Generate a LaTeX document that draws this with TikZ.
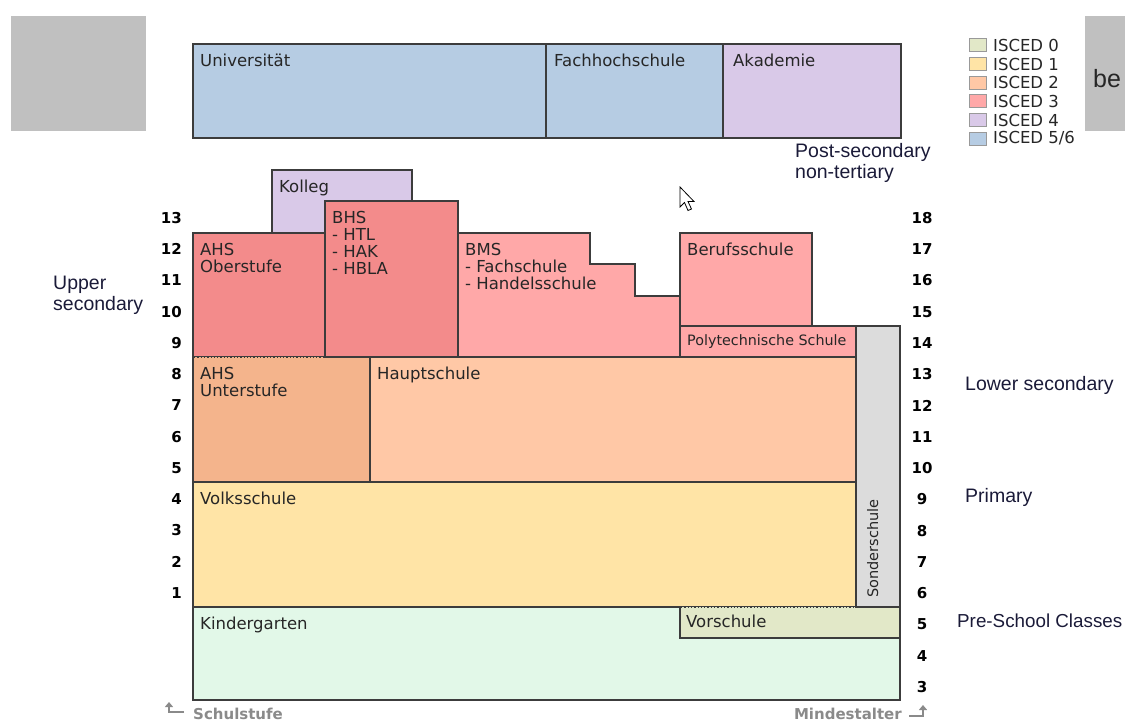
\documentclass[tikz,border=0pt]{standalone}
\usepackage{fontspec}
\setmainfont{DejaVu Sans}
\newfontfamily\arialf{Liberation Sans}
\usetikzlibrary{arrows.meta}
\definecolor{boxline}{HTML}{3C3C3C}
\definecolor{txt}{HTML}{262626}
\definecolor{labc}{HTML}{1A1A38}
\definecolor{cblue}{HTML}{B6CCE3}
\definecolor{clila}{HTML}{D9C9E8}
\definecolor{cred}{HTML}{F38B8B}
\definecolor{cpink}{HTML}{FFA8A8}
\definecolor{corange}{HTML}{F4B48C}
\definecolor{cpeach}{HTML}{FFC8A6}
\definecolor{cyellow}{HTML}{FFE4A6}
\definecolor{cmint}{HTML}{E2F8E8}
\definecolor{colive}{HTML}{E2E8C8}
\definecolor{cgray}{HTML}{DCDCDC}
\definecolor{cbg}{HTML}{C0C0C0}
\definecolor{cfoot}{HTML}{8A8A8A}
\begin{document}
\begin{tikzpicture}[x=1pt,y=-1pt,
  box/.style={draw=boxline, line width=1.4pt, line join=miter},
  btxt/.style={anchor=north west, inner sep=0pt, font=\fontsize{16.5}{17}\selectfont, text=txt, align=left},
  num/.style={font=\bfseries\fontsize{15}{15}\selectfont, text=black, inner sep=0pt},
  lab/.style={font=\arialf\fontsize{19.5}{21}\selectfont, text=labc, align=left, anchor=west, inner sep=0pt},
  legsq/.style={draw=gray!80, line width=0.9pt},
  legtxt/.style={anchor=west, inner sep=0pt, font=\fontsize{16.5}{16}\selectfont, text=txt},
  foot/.style={inner sep=0pt, font=\bfseries\fontsize{15}{15}\selectfont, text=cfoot},
  footarrow/.style={draw=cfoot, line width=1.5pt, -{Triangle[width=8pt,length=5pt]}}
]
\useasboundingbox (0,0) rectangle (1125,722);
\clip (0,0) rectangle (1125,722);

% grey background boxes
\fill[cbg] (11,16) rectangle (146,131);
\fill[cbg] (1085,16) rectangle (1125,131);
\node[anchor=base west, inner sep=0pt, font=\arialf\fontsize{25}{25}\selectfont, text=txt] (bgtext) at (1093,88) {be};

% tertiary
\draw[box, fill=cblue] (193,44) rectangle (546,138);
\draw[box, fill=cblue] (546,44) rectangle (723,138);
\draw[box, fill=clila] (723,44) rectangle (901,138);
\node[btxt] (uni) at (200,54) {Universität};
\node[btxt] (fh) at (554,54) {Fachhochschule};
\node[btxt] (aka) at (733,54) {Akademie};

% pre-school and primary
\draw[box, fill=cmint] (193,607) rectangle (900,700);
\draw[box, fill=colive] (680,607) rectangle (900,638);
\draw[box, fill=cyellow] (193,482) rectangle (856,607);
\draw[box, fill=cgray] (856,326) rectangle (900,607);
\draw[line width=2pt, colive] (682,607.5) -- (855,607.5);
\draw[line width=1.3pt, boxline, dotted] (681,607) -- (855,607);

% lower secondary
\draw[box, fill=cpeach] (370,357) rectangle (856,482);
\draw[box, fill=corange] (193,357) rectangle (370,482);

% upper secondary
\draw[box, fill=clila] (272,170) rectangle (412,240);
\draw[box, fill=cred] (193,233) rectangle (325,357);
\draw[box, fill=cred] (325,201) rectangle (458,357);
\draw[line width=2pt, corange] (194,357.5) -- (324,357.5);
\draw[line width=1.3pt, boxline, dotted] (194,357) -- (324,357);
\draw[box, fill=cpink] (458,233) -- (590,233) -- (590,264) -- (635,264) -- (635,296) -- (680,296) -- (680,357) -- (458,357) -- cycle;
\draw[box, fill=cpink] (680,233) rectangle (812,326);
\draw[box, fill=cpink] (680,326) rectangle (856,357);

\node[btxt] (kolleg) at (279,180) {Kolleg};
\node[btxt] (bhs) at (332,211) {BHS\\- HTL\\- HAK\\- HBLA};
\node[btxt] (ahso) at (200,243) {AHS\\Oberstufe};
\node[btxt] (bms) at (465,243) {BMS\\- Fachschule\\- Handelsschule};
\node[btxt] (bs) at (687,243) {Berufsschule};
\node[btxt, font=\fontsize{14.3}{15}\selectfont] (poly) at (687,334) {Polytechnische Schule};
\node[btxt] (ahsu) at (200,367) {AHS\\Unterstufe};
\node[btxt] (hs) at (377,367) {Hauptschule};
\node[btxt] (vs) at (200,492) {Volksschule};
\node[btxt] (kg) at (200,617) {Kindergarten};
\node[btxt] (vor) at (686,615) {Vorschule};
\node[anchor=base west, inner sep=0pt, rotate=90, font=\fontsize{14.5}{14}\selectfont, text=txt] (sonder) at (878,598) {Sonderschule};

% grade numbers
\foreach \n in {1,...,13}
  \node[num, anchor=east] (L\n) at (182,{218+(13-\n)*31.25}) {\n};
\foreach \n in {3,...,18}
  \node[num] (R\n) at (922,{218+(18-\n)*31.27}) {\n};

% side labels
\node[lab] (upper) at (53,295) {Upper\\secondary};
\node[lab] (lower) at (965,385) {Lower secondary};
\node[lab] (prim) at (965,497) {Primary};
\node[lab, font=\arialf\fontsize{18.8}{21}\selectfont] (presch) at (957,621) {Pre-School Classes};
\node[lab] (postsec) at (795,163) {Post-secondary\\non-tertiary};

% legend
\draw[legsq, fill=colive] (969,38) rectangle (986,51);
\draw[legsq, fill=cyellow] (969,57) rectangle (986,70);
\draw[legsq, fill=cpeach] (969,76) rectangle (986,89);
\draw[legsq, fill=cpink] (969,94) rectangle (986,107);
\draw[legsq, fill=clila] (969,113) rectangle (986,126);
\draw[legsq, fill=cblue] (969,132) rectangle (986,145);
\node[legtxt] (lg0) at (993,45) {ISCED 0};
\node[legtxt] (lg1) at (993,64) {ISCED 1};
\node[legtxt] (lg2) at (993,82) {ISCED 2};
\node[legtxt] (lg3) at (993,101) {ISCED 3};
\node[legtxt] (lg4) at (993,120) {ISCED 4};
\node[legtxt] (lg5) at (993,138) {ISCED 5/6};

% footer
\node[foot, anchor=west] (schulstufe) at (193,714) {Schulstufe};
\node[foot, anchor=east] (mindest) at (902,714) {Mindestalter};
\coordinate (sa0) at (184,712);
\coordinate (sa1) at (169,712);
\coordinate (sa2) at (169,702);
\draw[footarrow] (sa0) -- (sa1) -- (sa2);
\coordinate (ma0) at (909,716);
\coordinate (ma1) at (923,716);
\coordinate (ma2) at (923,705);
\draw[footarrow] (ma0) -- (ma1) -- (ma2);

% mouse cursor
\draw[fill=white, line width=0.8pt, line join=miter] (680,187) -- (680,207) -- (684.5,202.5) -- (688,210.5) -- (691.5,209) -- (688,201.5) -- (694,201.5) -- cycle;
\end{tikzpicture}
\end{document}
